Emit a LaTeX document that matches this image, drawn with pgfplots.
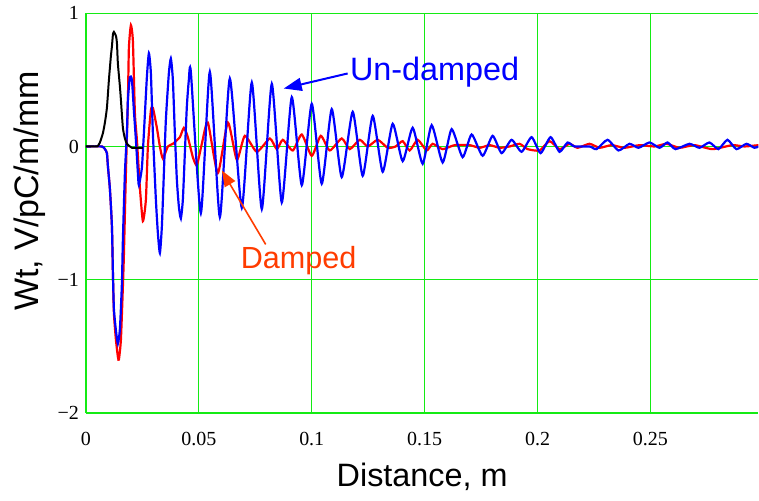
\documentclass[border=0pt]{standalone}
\usepackage{fontspec}
\setmainfont{Liberation Serif}
\newfontfamily\lbl{Liberation Sans}
\usepackage{pgfplots}
\pgfplotsset{compat=1.18}
\usetikzlibrary{arrows.meta}
\definecolor{gridgreen}{RGB}{20,235,20}
\definecolor{ublue}{RGB}{0,0,255}
\definecolor{dred}{RGB}{255,0,0}
\definecolor{dorange}{RGB}{255,60,0}
\begin{document}
\begin{tikzpicture}
\begin{axis}[name=ax, scale only axis, width=336.5pt, height=200pt,
 xmin=0, xmax=0.2978, ymin=-2, ymax=1,
 xtick={0,0.05,0.1,0.15,0.2,0.25}, xticklabels={0,0.05,0.1,0.15,0.2,0.25},
 ytick={-2,-1,0,1}, yticklabels={−2,−1,0,1},
 major tick length=0pt, axis line style={draw=none},
 grid=major, major grid style={gridgreen, line width=0.6pt},
 tick label style={font=\fontsize{10}{12}\selectfont},
 xticklabel style={yshift=-6pt},
 xlabel={Distance, m}, ylabel={Wt, V/pC/m/mm},
 xlabel style={font=\lbl\fontsize{16.2}{19}\selectfont, inner sep=1pt, at={(axis description cs:0.5,-0.16)}, anchor=center},
 ylabel style={font=\lbl\fontsize{17}{20}\selectfont, inner sep=1pt, at={(axis description cs:-0.0832,0.555)}, anchor=center},
]
\addplot[dred, line width=1.1pt, smooth, tension=0.35] coordinates {(0,0) (0.00708,0) (0.00841,-0.02) (0.00929,-0.05) (0.00974,-0.15) (0.01062,-0.32) (0.01151,-0.6) (0.01195,-0.95) (0.01239,-1.25) (0.01328,-1.45) (0.01416,-1.58) (0.01460,-1.60) (0.01549,-1.45) (0.01637,-1.05) (0.01682,-0.81) (0.01770,-0.2) (0.01859,0.35) (0.01903,0.74) (0.01991,0.91) (0.02080,0.79) (0.02168,0.25) (0.02257,0.05) (0.02390,-0.31) (0.02522,-0.56) (0.02655,-0.40) (0.02744,0.0) (0.02876,0.27) (0.02965,0.29) (0.03142,0.14) (0.03275,0.0) (0.03407,-0.09) (0.03629,0.0) (0.03850,0.02) (0.04160,0.07) (0.04337,0.14) (0.04514,0.07) (0.04735,-0.08) (0.04912,-0.14) (0.05133,0.02) (0.05399,0.18) (0.05841,-0.20) (0.06284,0.18) (0.06682,-0.10) (0.07036,0.08) (0.07567,-0.04) (0.08142,0.06) (0.08452,-0.02) (0.08717,0.05) (0.09160,-0.03) (0.09558,0.09) (0.10001,-0.07) (0.10399,0.08) (0.10797,-0.03) (0.11328,0.06) (0.11682,-0.02) (0.12125,0.05) (0.12479,0.0) (0.12921,0.05) (0.13364,-0.01) (0.13718,0.0) (0.14027,0.04) (0.14337,-0.03) (0.14691,0.05) (0.15089,-0.03) (0.15355,0.02) (0.15797,-0.02) (0.16328,0.01) (0.16992,0.01) (0.17435,-0.01) (0.17877,0.01) (0.18320,-0.01) (0.18762,0.0) (0.19205,0.02) (0.19559,-0.02) (0.20090,-0.03) (0.20532,0.04) (0.20975,-0.02) (0.21417,0.02) (0.21771,-0.01) (0.22302,0.02) (0.22745,-0.01) (0.23276,0.01) (0.23851,-0.01) (0.24515,0.01) (0.25179,0.0) (0.25710,0.02) (0.26285,-0.01) (0.26949,0.01) (0.27745,-0.02) (0.28630,0.01) (0.29161,0.0) (0.2978,0.01)};
\addplot[ublue, line width=1.1pt, smooth, tension=0.35] coordinates {(0,0) (0.00708,0) (0.00841,-0.02) (0.00929,-0.05) (0.00974,-0.15) (0.01062,-0.32) (0.01151,-0.6) (0.01195,-0.95) (0.01239,-1.22) (0.01328,-1.38) (0.01416,-1.48) (0.01505,-1.37) (0.01593,-1.03) (0.01637,-0.7) (0.01726,-0.2) (0.01814,0.1) (0.01859,0.35) (0.01947,0.52) (0.02036,0.5) (0.02124,0.27) (0.02213,0.05) (0.02301,-0.2) (0.02345,-0.29) (0.02478,-0.16) (0.02567,0.1) (0.02699,0.52) (0.02788,0.70) (0.02876,0.55) (0.02965,0.1) (0.03098,-0.4) (0.03186,-0.65) (0.03275,-0.80) (0.03363,-0.6) (0.03452,-0.2) (0.03540,0.2) (0.03673,0.55) (0.03761,0.66) (0.03850,0.5) (0.03938,0.1) (0.04027,-0.25) (0.04115,-0.45) (0.04204,-0.54) (0.04292,-0.4) (0.04381,-0.05) (0.04469,0.3) (0.04558,0.5) (0.04646,0.56) (0.05089,-0.50) (0.05487,0.56) (0.05930,-0.53) (0.06372,0.51) (0.06903,-0.46) (0.07346,0.48) (0.07788,-0.47) (0.08231,0.47) (0.08673,-0.42) (0.09116,0.37) (0.09558,-0.29) (0.10001,0.32) (0.10443,-0.28) (0.10886,0.28) (0.11328,-0.23) (0.11815,0.26) (0.12257,-0.22) (0.12700,0.23) (0.13142,-0.19) (0.13585,0.17) (0.14027,-0.11) (0.14470,0.14) (0.14912,-0.13) (0.15311,0.16) (0.15797,-0.12) (0.16196,0.13) (0.16682,-0.08) (0.17081,0.09) (0.17567,-0.07) (0.18010,0.08) (0.18408,-0.05) (0.18851,0.05) (0.19293,-0.04) (0.19736,0.07) (0.20134,-0.05) (0.20576,0.07) (0.20975,-0.04) (0.21329,0.03) (0.21638,0.0) (0.22302,0.0) (0.22612,-0.02) (0.23099,0.05) (0.23585,-0.03) (0.24072,0.02) (0.24470,-0.01) (0.24957,0.03) (0.25400,-0.01) (0.25754,0.03) (0.26108,-0.02) (0.26727,0.02) (0.27170,-0.01) (0.27612,0.03) (0.28010,-0.02) (0.28409,0.05) (0.28807,-0.02) (0.29249,0.02) (0.29603,-0.01) (0.2978,0)};
\addplot[black, line width=1pt, smooth, tension=0.35] coordinates {(0,0) (0.00487,0) (0.00531,0.005) (0.00620,0.03) (0.00752,0.10) (0.00841,0.18) (0.00929,0.29) (0.01018,0.50) (0.01106,0.68) (0.01151,0.75) (0.01195,0.84) (0.01239,0.86) (0.01328,0.83) (0.01372,0.78) (0.01416,0.62) (0.01505,0.45) (0.01549,0.35) (0.01637,0.14) (0.01726,0.06) (0.01814,0.02) (0.01947,0) (0.02036,-0.01) (0.02522,-0.01)};
\node[text=ublue, font=\lbl\fontsize{16.2}{19}\selectfont] at (axis cs:0.1544,0.555) {Un-damped};
\draw[ublue, line width=1pt, -{Triangle[length=9pt,width=6.5pt]}] (axis cs:0.1159,0.548) -- (axis cs:0.0876,0.435);
\node[text=dorange, font=\lbl\fontsize{15.3}{18}\selectfont] at (axis cs:0.0942,-0.859) {Damped};
\draw[dorange, line width=0.8pt, -{Triangle[length=8pt,width=6pt]}] (axis cs:0.0796,-0.735) -- (axis cs:0.0602,-0.18);
\end{axis}
\path ([xshift=-43pt,yshift=-44pt]ax.south west) rectangle ([yshift=6pt]ax.north east);
\end{tikzpicture}
\end{document}
